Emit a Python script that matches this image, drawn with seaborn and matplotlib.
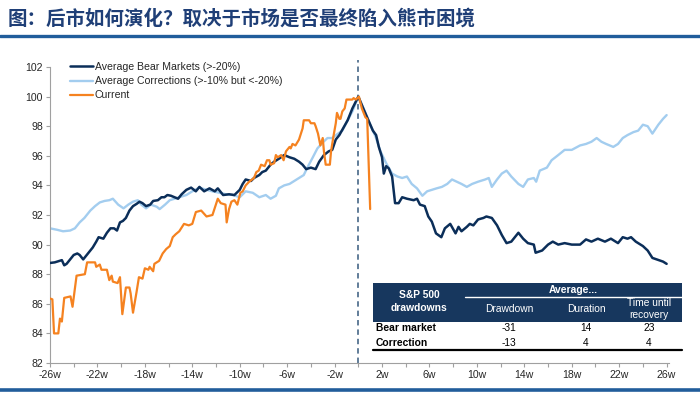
import seaborn as sns
import matplotlib.pyplot as plt
from matplotlib.patches import Rectangle
from matplotlib.lines import Line2D

# -----------------------------
# DATA
# -----------------------------
bear_weeks = [-26, -25.6, -25.2, -25.0, -24.8, -24.6, -24.3, -24.0, -23.7, -23.5, -23.2, -23.0,
              -22.7, -22.4, -22.1, -21.9, -21.5, -21.2, -20.9, -20.6, -20.35, -20.1, -19.85, -19.6,
              -19.3, -19.0, -18.7, -18.45, -18.2, -17.9, -17.55, -17.3, -16.9, -16.6, -16.35, -16.1,
              -15.8, -15.5, -15.2, -14.9, -14.5, -14.1, -13.7, -13.4, -13.0, -12.55, -12.1, -11.85,
              -11.4, -10.9, -10.45, -10.0, -9.75, -9.5, -9.05, -8.8, -8.35, -8.1, -7.8, -7.4, -7.1,
              -6.7, -6.25, -5.8, -5.4, -5.0, -4.7, -4.4, -4.0, -3.6, -3.3, -2.9, -2.5, -2.2, -1.9,
              -1.6, -1.2, -0.9, -0.5, 0.0,
              0.47, 0.9, 1.23, 1.5, 1.73, 2.0, 2.15, 2.35, 2.57, 2.85, 3.1, 3.4, 3.7, 4.1, 4.67,
              4.95, 5.2, 5.6, 5.9, 6.2, 6.55, 7.0, 7.3, 7.75, 8.2, 8.45, 8.7, 9.15, 9.4, 9.7, 10.1,
              10.55, 10.8, 11.26, 11.7, 12.1, 12.5, 12.9, 13.5, 13.9, 14.3, 14.8, 14.95, 15.5, 16.0,
              16.4, 16.86, 17.4, 18.0, 18.7, 19.2, 19.66, 20.2, 20.8, 21.3, 21.9, 22.3, 22.7, 23.0,
              23.4, 24.0, 24.4, 24.8, 25.3, 25.7, 26.0]
bear_vals = [88.76, 88.8, 88.9, 88.95, 88.6, 88.7, 89.0, 89.3, 89.4, 89.3, 89.0, 89.2,
             89.5, 89.8, 90.2, 90.5, 90.4, 90.8, 91.1, 91.1, 90.95, 91.5, 91.6, 91.8,
             92.3, 92.6, 92.75, 92.9, 92.8, 92.6, 92.7, 92.95, 93.0, 93.2, 93.2, 93.35,
             93.3, 93.2, 93.1, 93.4, 93.7, 93.85, 93.6, 93.9, 93.6, 93.8, 93.6, 93.8,
             93.35, 93.4, 93.35, 93.7, 94.1, 94.4, 94.3, 94.5, 94.7, 94.9, 95.0, 95.4, 95.6,
             95.8, 96.05, 95.9, 95.8, 95.6, 95.4, 95.1, 95.2, 95.1, 95.6, 96.05, 96.3, 96.4, 97.1,
             97.4, 97.97, 98.4, 99.2, 100.0,
             99.1, 98.3, 97.7, 97.4, 96.6, 95.9, 94.8, 95.3, 95.15, 94.6, 92.8, 92.8, 93.2, 93.1, 93.0,
             93.1, 92.7, 92.6, 91.9, 91.55, 90.76, 90.5, 91.1, 91.4, 90.76, 91.2, 90.9, 91.2, 91.4, 91.3, 91.7,
             91.8, 91.9, 91.8, 91.3, 90.65, 90.1, 90.2, 90.8, 90.4, 90.1, 90.0, 89.45, 89.6, 90.0,
             90.2, 90.0, 90.1, 90.0, 90.0, 90.35, 90.2, 90.4, 90.2, 90.4, 90.1, 90.5, 90.4, 90.5,
             90.2, 89.9, 89.6, 89.1, 88.96, 88.85, 88.7]

corr_weeks = [-26, -25.4, -24.9, -24.3, -23.9, -23.5, -23.1, -22.6, -22.2, -21.8, -21.4, -21.0,
              -20.7, -20.25, -19.8, -19.4, -19.0, -18.6, -18.3, -17.9, -17.5, -17.0, -16.75, -16.3,
              -15.9, -15.5, -15.1, -14.5, -14.0, -13.4, -12.8, -12.3, -11.7, -11.15, -10.6, -10.0,
              -9.5, -8.9, -8.35, -7.8, -7.4, -6.95, -6.7, -6.25, -5.8, -5.4, -5.0, -4.6, -4.3, -3.9,
              -3.45, -3.0, -2.6, -2.2, -1.8, -1.35, -0.9, -0.5, 0.0,
              0.5, 1.0, 1.45, 1.87, 2.35, 2.85, 3.3, 3.7, 4.1, 4.5, 4.95, 5.4, 5.8, 6.2, 6.6, 7.05,
              7.5, 7.9, 8.3, 8.7, 9.15, 9.6, 10.1, 10.7, 11.0, 11.26, 11.7, 12.1, 12.5, 12.9, 13.5,
              13.9, 14.3, 14.8, 15.0, 15.3, 15.9, 16.3, 16.86, 17.4, 18.0, 18.7, 19.2, 19.66, 20.1,
              20.5, 20.9, 21.5, 21.9, 22.3, 22.7, 23.2, 23.6, 24.0, 24.4, 24.8, 25.3, 25.7, 26.0]
corr_vals = [91.1, 91.0, 90.9, 90.95, 91.1, 91.5, 91.8, 92.3, 92.6, 92.85, 92.95, 93.0,
             93.1, 92.7, 92.45, 92.7, 92.9, 93.0, 92.7, 92.45, 92.7, 92.56, 92.4, 92.7,
             93.0, 93.1, 93.2, 93.35, 93.6, 93.85, 93.7, 93.6, 93.5, 93.4, 93.35, 93.2,
             93.6, 93.5, 93.2, 93.35, 93.1, 93.3, 93.8, 94.0, 94.1, 94.3, 94.5, 94.7, 95.2, 95.8,
             96.5, 96.9, 97.2, 97.2, 97.45, 97.7, 98.4, 99.0, 100.0,
             99.1, 98.1, 97.3, 96.3, 95.5, 94.8, 94.6, 94.5, 94.6, 94.1, 93.8, 93.3, 93.6, 93.7, 93.8, 93.9,
             94.1, 94.4, 94.25, 94.1, 93.9, 94.1, 94.25, 94.4, 94.5, 93.9, 94.4, 94.8, 95.0, 94.6, 94.1,
             93.9, 94.4, 94.5, 94.25, 95.0, 95.2, 95.7, 96.05, 96.4, 96.4, 96.7, 96.8, 96.95, 97.2,
             96.95, 96.8, 96.6, 96.8, 97.2, 97.4, 97.6, 97.7, 98.1, 98.0, 97.5, 98.1, 98.5, 98.75]

cur_weeks = [-26, -25.8, -25.66, -25.3, -25.16, -25.0, -24.8, -24.27, -24.1, -23.76, -23.06, -22.87,
             -22.2, -22.1, -21.8, -21.66, -21.2, -21.0, -20.8, -20.7, -20.3, -20.1, -19.9, -19.6,
             -19.3, -19.2, -19.0, -18.7, -18.5, -18.2, -18.0, -17.7, -17.6, -17.3, -17.2, -16.8,
             -16.5, -16.2, -15.9, -15.65, -15.4, -15.1, -14.7, -14.3, -14.0, -13.7, -13.25, -12.8,
             -12.3, -11.85, -11.6, -11.2, -11.1, -10.9, -10.7, -10.45, -10.2, -9.95, -9.75, -9.5,
             -9.2, -8.8, -8.6, -8.4, -8.2, -7.9, -7.7, -7.5, -7.4, -7.1, -6.95, -6.8, -6.5, -6.3,
             -6.1, -5.8, -5.7, -5.55, -5.3, -5.0, -4.7, -4.6, -4.15, -4.0, -3.7, -3.6, -3.4, -3.2,
             -3.0, -2.9, -2.75, -2.4, -2.3, -2.1, -1.9, -1.8, -1.6, -1.5, -1.35, -1.15, -1.0, -0.5,
             -0.4, -0.2, 0.05, 0.3, 0.6, 0.75, 1.0]
cur_vals = [86.36, 86.3, 84.0, 84.0, 85.0, 84.8, 86.4, 86.5, 85.8, 87.9, 88.0, 88.8,
            88.8, 88.5, 88.65, 88.3, 88.3, 87.6, 87.9, 87.5, 87.4, 87.8, 85.3, 87.1,
            87.1, 86.7, 85.4, 86.8, 87.8, 87.7, 88.4, 88.3, 88.5, 88.2, 88.7, 88.9,
            89.4, 89.7, 89.9, 90.5, 90.7, 90.9, 91.4, 91.3, 91.4, 92.2, 92.3, 91.9,
            92.0, 93.1, 92.8, 92.7, 91.5, 92.4, 92.9, 93.0, 92.7, 93.5, 93.6, 94.0,
            94.25, 94.5, 94.9, 95.0, 95.4, 95.3, 95.7, 95.7, 95.4, 95.5, 96.05, 95.9, 96.05, 95.7,
            96.3, 96.6, 96.5, 96.8, 96.7, 97.1, 97.85, 98.4, 98.4, 98.2, 98.2, 98.0, 97.5, 96.7,
            97.2, 96.3, 95.4, 95.4, 96.3, 97.3, 98.2, 98.9, 98.5, 98.5, 99.0, 99.2, 99.8, 99.8,
            99.9, 99.8, 100.0, 99.2, 98.6, 98.5, 92.4]

x_ticks = list(range(-26, 27, 2))
x_labels = [f"{w}w" if (w + 26) % 4 == 0 else "" for w in x_ticks]
y_ticks = list(range(82, 103, 2))

tbl_rows = ["Bear market", "Correction"]
tbl_drawdown = [-31, -13]
tbl_duration = [14, 4]
tbl_recovery = [23, 4]

title = "图：后市如何演化？取决于市场是否最终陷入熊市困境"

# -----------------------------
# STYLE
# -----------------------------
sns.set_style("white")
plt.rcParams['font.family'] = ['Liberation Sans', 'Noto Sans CJK SC', 'DejaVu Sans']

NAVY = "#0B2E59"
LIGHT = "#A3CDEF"
ORANGE = "#F58220"
RULE = "#215D9B"

fig = plt.figure(figsize=(7, 3.95), dpi=100)
W, H = 700, 395
ax = fig.add_axes([50 / W, 1 - 363 / H, (669 - 50) / W, (363 - 67) / H])

sns.lineplot(x=corr_weeks, y=corr_vals, ax=ax, color=LIGHT, lw=1.7,
             estimator=None, sort=False, label="Average Corrections (>-10% but <-20%)", zorder=2)
sns.lineplot(x=bear_weeks, y=bear_vals, ax=ax, color=NAVY, lw=1.8,
             estimator=None, sort=False, label="Average Bear Markets (>-20%)", zorder=3)
sns.lineplot(x=cur_weeks, y=cur_vals, ax=ax, color=ORANGE, lw=1.6,
             estimator=None, sort=False, label="Current", zorder=4)

ax.axvline(0, ymin=0, ymax=1.025, color="#557391", lw=1.3, ls=(0, (3, 2.2)),
           clip_on=False, zorder=1)

ax.set_xlim(-26, 26.2)
ax.set_ylim(82, 102)
ax.set_xticks(x_ticks)
ax.set_xticklabels(x_labels)
ax.set_yticks(y_ticks)
ax.tick_params(axis="both", labelsize=7.6, length=3, width=0.8, color="#A0A0A0",
               direction="out", pad=2, bottom=True, left=True)
for side in ["top", "right"]:
    ax.spines[side].set_visible(False)
for side in ["left", "bottom"]:
    ax.spines[side].set_color("#A0A0A0")
    ax.spines[side].set_linewidth(0.8)

h, l = ax.get_legend_handles_labels()
order = [1, 0, 2]
ax.legend([h[i] for i in order], [l[i] for i in order], loc="upper left",
          bbox_to_anchor=(70 / W, 1 - 62 / H), bbox_transform=fig.transFigure,
          frameon=False, fontsize=7.6, handlelength=2.2, handletextpad=0.15,
          labelspacing=0.4, borderpad=0, borderaxespad=0)

# -----------------------------
# OVERLAY: title, rules, table (figure pixel coordinates)
# -----------------------------
ov = fig.add_axes([0, 0, 1, 1], zorder=5)
ov.set_xlim(0, W)
ov.set_ylim(H, 0)
ov.axis("off")
ov.patch.set_alpha(0)

ov.text(8, 19, title, fontsize=14, color="#1F3F77", va="center", ha="left",
        fontweight="bold", family=["Noto Sans CJK SC", "DejaVu Sans"])
ov.add_line(Line2D([0, W], [36, 36], color=RULE, lw=2.4))
ov.add_line(Line2D([0, W], [389.5, 389.5], color=RULE, lw=2.6))

# table
ov.add_patch(Rectangle((373, 283), 682 - 373, 39, color="#17375E", lw=0))
ov.add_patch(Rectangle((373, 322), 682 - 373, 27, color="white", lw=0))
ov.add_line(Line2D([465, 682], [297, 297], color="white", lw=1.0))
ov.add_line(Line2D([373, 682], [349.5, 349.5], color="black", lw=1.6))

fs = 7.4
ov.text(419, 295, "S&P 500", color="white", fontsize=fs, fontweight="bold", ha="center", va="center")
ov.text(419, 308, "drawdowns", color="white", fontsize=fs, fontweight="bold", ha="center", va="center")
ov.text(573, 290, "Average...", color="white", fontsize=fs, fontweight="bold", ha="center", va="center")
col_x = [509, 586, 649]
ov.text(col_x[0], 309, "Drawdown", color="white", fontsize=fs, ha="center", va="center")
ov.text(col_x[1], 309, "Duration", color="white", fontsize=fs, ha="center", va="center")
ov.text(col_x[2], 303, "Time until", color="white", fontsize=fs, ha="center", va="center")
ov.text(col_x[2], 315, "recovery", color="white", fontsize=fs, ha="center", va="center")

row_y = [328, 342.5]
for i, name in enumerate(tbl_rows):
    ov.text(376, row_y[i], name, color="black", fontsize=fs, fontweight="bold", ha="left", va="center")
    for cx, val in zip(col_x, [tbl_drawdown[i], tbl_duration[i], tbl_recovery[i]]):
        ov.text(cx, row_y[i], str(val), color="black", fontsize=fs, ha="center", va="center")

fig.savefig("out.png", dpi=100)
